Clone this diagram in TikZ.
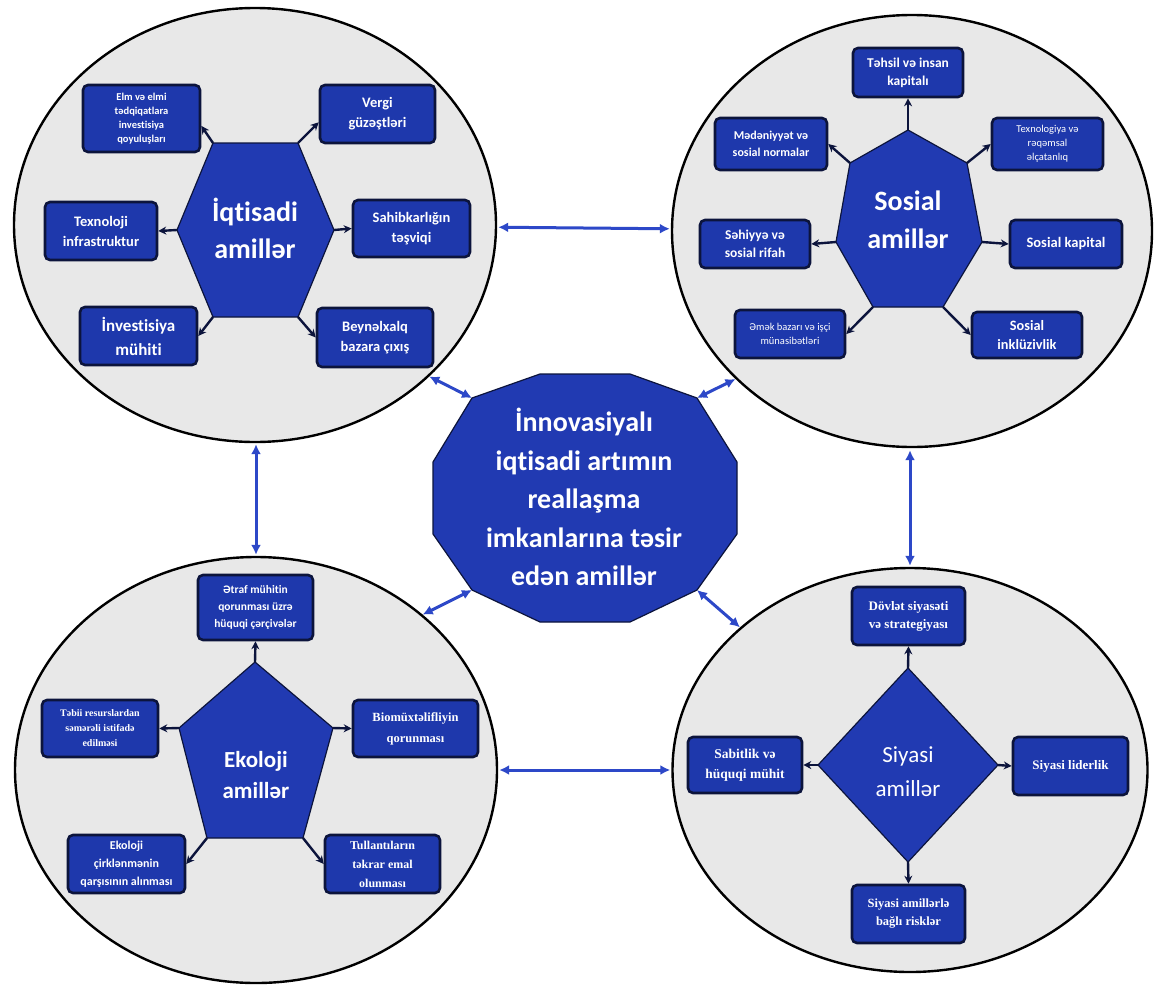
\documentclass[tikz,border=0pt]{standalone}
\usepackage{fontspec}
\setmainfont{Carlito}[Ligatures=NoCommon]
\newfontfamily\tnr{Liberation Serif}
\usetikzlibrary{shapes.geometric,arrows.meta}
\definecolor{mblue}{RGB}{33,58,178}
\definecolor{bblue}{RGB}{30,56,172}
\definecolor{navy}{RGB}{12,20,60}
\definecolor{cgrey}{RGB}{232,232,232}
\definecolor{lblue}{RGB}{45,72,200}
\newcommand{\fs}[2]{\fontsize{#1}{#2}\selectfont}
\begin{document}
\begin{tikzpicture}[x=1pt,y=-1pt,
  circ/.style={ellipse, draw=black, line width=2.4pt, fill=cgrey, inner sep=0pt},
  box/.style 2 args={rectangle, rounded corners=5pt, draw=navy, line width=2.6pt, fill=bblue, text=white, align=center, minimum width=#1, minimum height=#2, inner sep=1pt},
  shp/.style={fill=mblue, draw=navy, line width=1.2pt},
  ttl/.style={text=white, align=center, inner sep=0pt},
  arr/.style={draw=navy, line width=2.4pt, -{Stealth[length=8pt,width=8pt]}},
  link/.style={draw=lblue, line width=3pt, {Latex[length=10pt,width=10pt]}-{Latex[length=10pt,width=10pt]}}
]
\useasboundingbox (0,0) rectangle (1161,985);
\fill[white] (0,0) rectangle (1161,985);

% circles
\node[circ, minimum width=482pt, minimum height=434pt] (TL) at (255,225) {};
\node[circ, minimum width=480pt, minimum height=432pt] (TR) at (912,231) {};
\node[circ, minimum width=482pt, minimum height=426pt] (BL) at (256,770) {};
\node[circ, minimum width=475pt, minimum height=404pt] (BR) at (910,770) {};

% central polygon
\coordinate (E1) at (433,462); \coordinate (E2) at (472,398);
\coordinate (E3) at (540,374); \coordinate (E4) at (630,374);
\coordinate (E5) at (697,398); \coordinate (E6) at (737,462);
\coordinate (E7) at (737,534); \coordinate (E8) at (697,590);
\coordinate (E9) at (630,622); \coordinate (E10) at (540,622);
\coordinate (E11) at (472,590); \coordinate (E12) at (433,534);
\draw[shp] (E1)--(E2)--(E3)--(E4)--(E5)--(E6)--(E7)--(E8)--(E9)--(E10)--(E11)--(E12)--cycle;
\node[ttl, font=\fs{28}{38.5}\bfseries] (C) at (584,497) {İnnovasiyalı\\iqtisadi artımın\\reallaşma\\imkanlarına təsir\\edən amillər};

% links between circles
\draw[link, shorten <=1pt, shorten >=1pt] (TL) -- (TR);
\draw[link, shorten <=1pt, shorten >=1pt] (BL) -- (BR);
\draw[link, shorten <=1pt, shorten >=1pt] (TL.south -| BL.north) -- (BL.north);
\draw[link, shorten <=2pt, shorten >=1pt] (TR.south -| BR.north) -- (BR.north);
\draw[link] (E2) -- (TL.-41);
\draw[link] (E5) -- (TR.220);
\draw[link] (E11) -- (BL.43);
\draw[link] (E8) -- (BR.140);

% ---------- Iqtisadi ----------
\coordinate (A1) at (213,143); \coordinate (A2) at (298,143);
\coordinate (A3) at (334,230); \coordinate (A4) at (298,317);
\coordinate (A5) at (213,317); \coordinate (A6) at (177,230);
\draw[shp] (A1)--(A2)--(A3)--(A4)--(A5)--(A6)--cycle;
\node[ttl, font=\fs{28}{37}\bfseries] (iqt) at (255,228) {İqtisadi\\amillər};
\node[box={117pt}{67pt}, font=\fs{10.5}{14}\bfseries] (elm) at (141.5,118.5) {Elm və elmi\\tədqiqatlara\\investisiya\\qoyuluşları};
\node[box={115pt}{58pt}, font=\fs{14.5}{20}\bfseries] (vergi) at (377.5,114) {Vergi\\güzəştləri};
\node[box={112pt}{58pt}, font=\fs{14.5}{20}\bfseries] (texno) at (101,231) {Texnoloji\\infrastruktur};
\node[box={117pt}{57pt}, font=\fs{14.5}{20}\bfseries] (sahib) at (411.5,228.5) {Sahibkarlığın\\təşviqi};
\node[box={117pt}{58pt}, font=\fs{17}{24}\bfseries] (inv) at (138.5,336) {İnvestisiya\\mühiti};
\node[box={116pt}{59pt}, font=\fs{14.5}{20}\bfseries] (beyn) at (375,337.5) {Beynəlxalq\\bazara çıxış};
\draw[arr] (A1) -- (elm.-7);
\draw[arr] (A2) -- (vergi.188);
\draw[arr] (A6) -- (texno.east);
\draw[arr] (A3) -- (sahib.west);
\draw[arr] (A5) -- (inv.east);
\draw[arr] (A4) -- (beyn.west);

% ---------- Sosial ----------
\coordinate (B1) at (908,130); \coordinate (B2) at (967,163);
\coordinate (B3) at (982,242); \coordinate (B4) at (943,307);
\coordinate (B5) at (873,307); \coordinate (B6) at (836,242);
\coordinate (B7) at (850,163);
\draw[shp] (B1)--(B2)--(B3)--(B4)--(B5)--(B6)--(B7)--cycle;
\node[ttl, font=\fs{28}{38}\bfseries] (sos) at (908,220) {Sosial\\amillər};
\node[box={110pt}{49pt}, font=\fs{13.5}{18}\bfseries] (tehsil) at (908,72.5) {Təhsil və insan\\kapitalı};
\node[box={112pt}{52pt}, font=\fs{12}{17}\bfseries] (medeni) at (771,144) {Mədəniyyət və\\sosial normalar};
\node[box={111pt}{52pt}, font=\fs{10.5}{14}] (texnol) at (1047.5,144) {Texnologiya və\\rəqəmsal\\əlçatanlıq};
\node[box={110pt}{48pt}, font=\fs{13.5}{18}\bfseries] (sehiyye) at (755,244) {Səhiyyə və\\sosial rifah};
\node[box={112pt}{48pt}, font=\fs{14.5}{19}\bfseries] (sosk) at (1066,244) {Sosial kapital};
\node[box={110pt}{48pt}, font=\fs{10.5}{14}] (emek) at (790,334) {Əmək bazarı və işçi\\münasibətləri};
\node[box={110pt}{46pt}, font=\fs{14.3}{19}\bfseries] (inkl) at (1027,335) {Sosial\\inklüzivlik};
\draw[arr] (B1) -- (tehsil.south);
\draw[arr] (B7) -- (medeni.east);
\draw[arr] (B2) -- (texnol.west);
\draw[arr] (B6) -- (sehiyye.east);
\draw[arr] (B3) -- (sosk.west);
\draw[arr] (B5) -- (emek.east);
\draw[arr] (B4) -- (inkl.west);

% ---------- Ekoloji ----------
\coordinate (C1) at (255,662); \coordinate (C2) at (333,728);
\coordinate (C3) at (303,838); \coordinate (C4) at (207,838);
\coordinate (C5) at (179,728);
\draw[shp] (C1)--(C2)--(C3)--(C4)--(C5)--cycle;
\node[ttl, font=\fs{23}{31}\bfseries] (eko) at (256,775) {Ekoloji\\amillər};
\node[box={115pt}{65pt}, font=\fs{11.5}{17}\bfseries] (etraf) at (255.5,607.5) {Ətraf mühitin\\qorunması üzrə\\hüquqi çərçivələr};
\node[box={116pt}{57pt}, font=\tnr\fs{10}{15}\bfseries] (tebii) at (100,728.5) {Təbii resurslardan\\səmərəli istifadə\\edilməsi};
\node[box={125pt}{57pt}, font=\tnr\fs{12.5}{21}\bfseries] (bio) at (415.5,728.5) {Biomüxtəlifliyin\\qorunması};
\node[box={117pt}{58pt}, font=\fs{12}{18}\bfseries] (ekol) at (126.5,864) {Ekoloji\\çirklənmənin\\qarşısının alınması};
\node[box={115pt}{58pt}, font=\tnr\fs{12}{19}\bfseries] (tull) at (382.5,864) {Tullantıların\\təkrar emal\\olunması};
\draw[arr] (C1) -- (etraf.south);
\draw[arr] (C5) -- (tebii.east);
\draw[arr] (C2) -- (bio.west);
\draw[arr] (C4) -- (ekol.east);
\draw[arr] (C3) -- (tull.west);

% ---------- Siyasi ----------
\coordinate (D1) at (908,668); \coordinate (D2) at (998,765);
\coordinate (D3) at (908,862); \coordinate (D4) at (818,765);
\draw[shp] (D1)--(D2)--(D3)--(D4)--cycle;
\node[ttl, font=\fs{23}{34}] (siy) at (908,772) {Siyasi\\amillər};
\node[box={113pt}{58pt}, font=\tnr\fs{13}{18}\bfseries] (dovlet) at (908.5,616) {Dövlət siyasəti\\və strategiyası};
\node[box={114pt}{56pt}, font=\tnr\fs{13.5}{20}\bfseries] (sabit) at (745,765) {Sabitlik və\\hüquqi mühit};
\node[box={115pt}{58pt}, font=\tnr\fs{13}{18}\bfseries] (lider) at (1070.5,766) {Siyasi liderlik};
\node[box={113pt}{58pt}, font=\tnr\fs{12.5}{18}\bfseries] (risk) at (908.5,914) {Siyasi amillərlə\\bağlı risklər};
\draw[arr] (D1) -- (dovlet.south);
\draw[arr] (D4) -- (sabit.east);
\draw[arr] (D2) -- (lider.west);
\draw[arr] (D3) -- (risk.north);
\end{tikzpicture}
\end{document}
